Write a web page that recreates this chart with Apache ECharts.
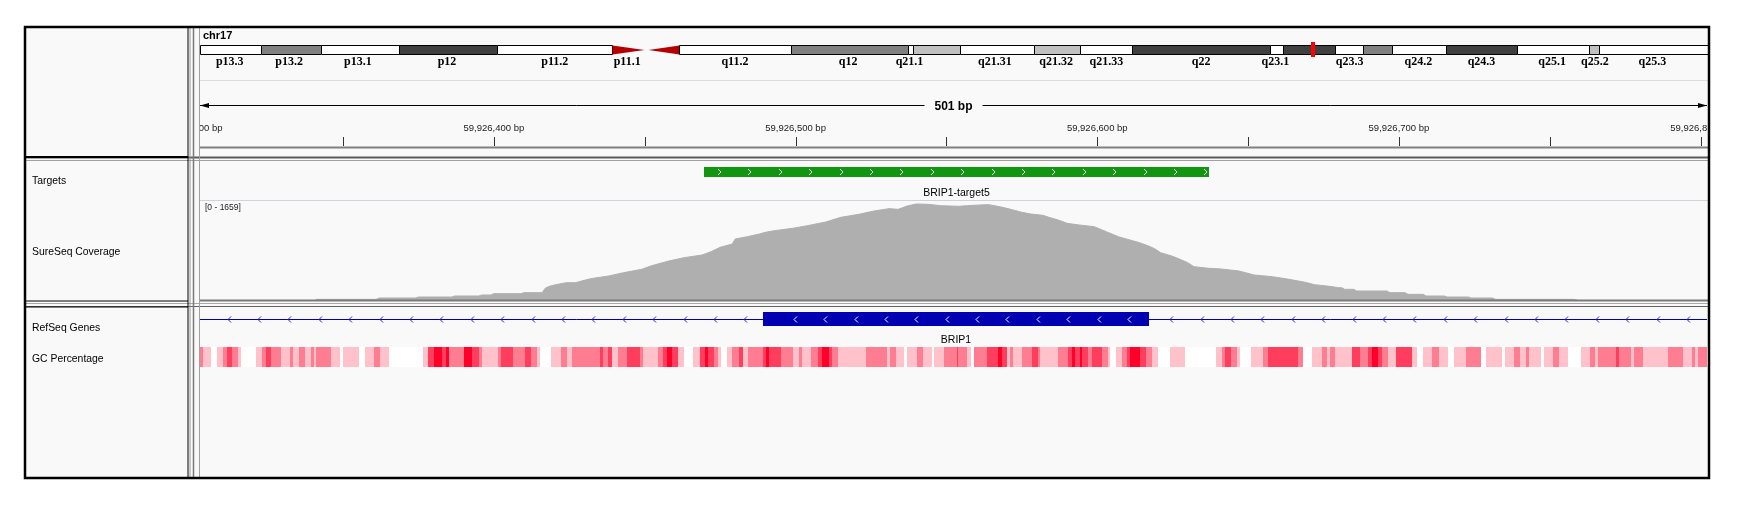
<!DOCTYPE html>
<html>
<head>
<meta charset="utf-8">
<script src="https://cdn.jsdelivr.net/npm/echarts@6/dist/echarts.min.js"></script>
<style>
html, body { margin: 0; padding: 0; background: #fff; }
#main { width: 1738px; height: 506px; }
</style>
</head>
<body>
<div id="main"></div>
<script>
// ---- data ----
const CHROM = 'chr17';
const CHROM_LEN = 81.195; // Mb (hg19)
const POS0 = 59926000;
const VIEW_START = POS0 + 302.6;
const VIEW_END = POS0 + 802.1;
const SPAN_LABEL = '501 bp';
const MARKER_MB = 59.926;

// cytobands
const bandNames = ['p13.3','p13.2','p13.1','p12','p11.2','p11.1','q11.1','q11.2','q12','q21.1','q21.2','q21.31','q21.32','q21.33','q22','q23.1','q23.2','q23.3','q24.1','q24.2','q24.3','q25.1','q25.2','q25.3'];
const bandStarts = [0, 3.3, 6.5, 10.7, 16.0, 22.2, 24.0, 25.8, 31.8, 38.1, 38.4, 40.9, 44.9, 47.4, 50.2, 57.6, 58.3, 61.1, 62.6, 64.2, 67.1, 70.9, 74.8, 75.3];
const bandStains = ['gneg','gpos50','gneg','gpos75','gneg','acen','acen','gneg','gpos50','gneg','gpos25','gneg','gpos25','gneg','gpos75','gneg','gpos75','gneg','gpos50','gneg','gpos75','gneg','gpos25','gneg'];
const bandLabels = ['p13.3','p13.2','p13.1','p12','p11.2','p11.1','q11.2','q12','q21.1','q21.31','q21.32','q21.33','q22','q23.1','q23.3','q24.2','q24.3','q25.1','q25.2','q25.3'];
const bandLabelAt = [1.6, 4.8, 8.5, 13.3, 19.1, 23.0, 28.8, 34.9, 38.2, 42.8, 46.1, 48.8, 53.9, 57.9, 61.9, 65.6, 69.0, 72.8, 75.1, 78.2];

// ruler (offsets from POS0)
const rulerTicks = [350, 400, 450, 500, 550, 600, 650, 700, 750, 800];
const rulerLabels = [300, 400, 500, 600, 700, 800];

// targets (offsets from POS0)
const targetNames = ['BRIP1-target5'];
const targetStarts = [469.5];
const targetEnds = [637.1];
const targetStrand = ['+'];

// genes
const geneNames = ['BRIP1'];
const geneStarts = [59758627];
const geneEnds = [59940882];
const exonStarts = [489.3]; // offsets from POS0
const exonEnds = [617.2];
const geneStrand = ['-'];

// coverage (offsets from POS0)
const COV_MAX = 1659;
const covPos = [341,361,362,374,375,386,387,395,396,399,400,409,410,416,417,418,420,424,427,432,438,443,449,452,458,463,469,472,475,479,480,484,488,490,493,499,504,510,515,521,526,531,534,537,540,544,548,554,557,561,564,567,570,573,575,578,582,584,587,590,594,599,603,607,610,614,617,619,621,625,628,630,632,637,641,647,652,658,663,669,672,677,680,681,682,685,686,696,697,702,703,708,709,715,716,723,724,731,732,758,759];
const covVal = [11,11,34,34,50,50,67,67,84,84,106,106,123,123,196,223,251,290,290,357,402,458,514,570,654,709,754,810,883,938,1022,1061,1106,1134,1162,1201,1246,1307,1385,1436,1491,1531,1519,1575,1609,1603,1581,1570,1581,1592,1598,1570,1536,1497,1469,1441,1419,1385,1341,1285,1257,1229,1145,1061,1017,961,905,860,793,732,670,626,559,531,520,486,419,391,352,296,257,229,207,207,179,179,151,151,123,123,95,95,67,67,50,50,34,34,11,11,0];

// GC percentage segments (offsets from VIEW_START)
const gcOffset = [0,1.1,3.5,5.5,7.7,8.8,10.5,12.5,13.6,18.6,20.4,21.8,23.5,26.8,29.8,30.7,32.8,34.8,36.8,37.7,38.3,43.4,46.5,47.5,52.7,54.7,57.7,59.7,62.6,73.8,75.7,77.7,80.1,81.4,82.5,87.6,90.1,92.6,93.6,98.7,99.8,103.8,107.7,109.7,111.6,112.7,116.3,119.7,121.5,123.4,
  124.3,132.6,133.7,135.3,136.7,138.7,141.4,145.8,146.9,151.7,153.6,154.7,156.3,158.5,160.5,163.5,165.7,167.4,168.5,170.5,171.6,172.7,174.7,176.4,178.7,180.1,181.5,186.7,187.5,188.6,192.6,196.7,198.5,199.6,202.5,204.7,206.3,208.5,209.6,211.6,220.7,227.6,228.7,230.7,233.3,234.4,237.5,239.5,242.5,243.4,246.7,250.8,
  251.4,254.1,255.4,256.7,260.7,264.6,265.7,267.4,268.5,269.6,272.3,275.7,277.6,278.4,284.5,287.8,288.9,290,291.7,292.4,294.4,295.5,298.9,300.9,301.6,303.6,305.5,307.2,308.3,311.6,313.5,315.4,317.4,321.5,326.5,336.6,338.6,339.7,341.7,343.6,344.7,348.4,352.4,354.1,364,365.5,368.5,371.8,373.4,374.5,376.2,
  381.7,384.5,387.2,388.4,390.6,391.7,393.9,396.4,401.6,403.3,405.5,408.2,410.7,413.8,415.6,419.5,424.5,426.3,431.5,432.6,435.5,437.5,439.4,440.5,444.5,445.6,448.6,450.4,453.5,457.6,460.7,462.4,463.5,469.3,470.4,474.3,475.4,478.4,486.5,491.5,494.4,495.5,496.4];
const gcPct = [53,41,30,41,53,64,53,41,30,41,53,64,53,41,53,41,53,41,53,41,53,41,30,41,30,41,53,41,30,41,64,75,64,75,53,75,64,53,41,53,64,53,64,53,41,30,41,53,41,53,
  53,64,53,64,41,53,64,53,41,53,64,75,64,41,30,41,64,75,64,53,41,30,41,53,64,41,53,64,75,64,53,41,53,41,53,64,75,64,53,41,53,41,53,41,30,41,53,41,30,41,53,64,
  53,41,30,53,64,75,64,41,53,41,53,64,53,41,53,64,75,64,75,64,53,64,53,41,30,41,53,64,75,64,53,41,30,41,30,41,53,64,53,41,30,41,53,64,53,30,41,53,41,53,41,
  64,53,64,75,64,53,41,64,41,30,41,53,41,30,41,53,30,41,30,41,53,41,53,41,30,41,53,41,30,41,53,41,53,64,53,41,53,41,53,41,53,41,53];

const trackNames = ['Targets', 'SureSeq Coverage', 'RefSeq Genes', 'GC Percentage'];

// ---- helpers ----
const SANS = '"Liberation Sans", Arial, sans-serif';
const stainColor = { gneg: '#ffffff', gpos25: '#c0c0c0', gpos50: '#808080', gpos75: '#404040', gpos100: '#000000' };

function gcColor(pct) {
    const t = Math.max(0, Math.min(1, (pct - 30) / 45));
    return 'rgb(255,' + Math.round(255 * (1 - t)) + ',' + Math.round(255 - 215 * t) + ')';
}

function fmtBp(v) {
    return Math.round(v).toLocaleString('en-US') + ' bp';
}

function chevron(x, cy, dir, color) {
    // dir: 1 -> '>' , -1 -> '<'
    return {
        type: 'polyline',
        shape: { points: [[x - 1.5 * dir, cy - 3], [x + 1.5 * dir, cy], [x - 1.5 * dir, cy + 3]] },
        style: { stroke: color, lineWidth: 1, fill: null }
    };
}

// ---- series builders ----
const bandData = bandStarts.map((s, i) => [s, i < bandStarts.length - 1 ? bandStarts[i + 1] : CHROM_LEN]);

function renderBand(params, api) {
    const i = params.dataIndex;
    const p0 = api.coord([api.value(0), 1]);
    const p1 = api.coord([api.value(1), 0]);
    const x0 = Math.round(p0[0]) + 0.5, x1 = Math.round(p1[0]) + 0.5;
    const yT = Math.round(p0[1]) + 0.5, yB = Math.round(p1[1]) + 0.5;
    if (bandStains[i] === 'acen') {
        const pArm = bandNames[i].charAt(0) === 'p';
        const mid = (yT + yB) / 2;
        const pts = pArm ? [[x0, yT], [x1 - 2, mid], [x0, yB]] : [[x1, yT], [x0 + 2, mid], [x1, yB]];
        return { type: 'polygon', shape: { points: pts }, style: { fill: '#b40000' } };
    }
    return {
        type: 'rect',
        shape: { x: x0, y: yT, width: x1 - x0, height: yB - yT },
        style: { fill: stainColor[bandStains[i]], stroke: '#000', lineWidth: 1 }
    };
}

function renderBandLabel(params, api) {
    const cs = params.coordSys;
    const x = api.coord([api.value(0), 0])[0];
    return {
        type: 'text', x: x, y: cs.y + cs.height + 8,
        style: { text: bandLabels[params.dataIndex], align: 'center', verticalAlign: 'middle',
            font: 'bold 12px "Liberation Serif", serif', fill: '#000' }
    };
}

function renderMarker(params, api) {
    const cs = params.coordSys;
    const x = api.coord([api.value(0), 0])[0];
    return { type: 'rect', shape: { x: Math.round(x) - 2, y: cs.y - 3, width: 4, height: cs.height + 6 }, style: { fill: '#ff0000' } };
}

function renderTick(params, api) {
    const cs = params.coordSys;
    const x = Math.round(api.coord([api.value(0), 0])[0]) + 0.5;
    const yb = cs.y + cs.height;
    return { type: 'line', shape: { x1: x, y1: yb - 10, x2: x, y2: yb - 1 }, style: { stroke: '#333', lineWidth: 1 } };
}

function renderTickLabel(params, api) {
    const cs = params.coordSys;
    const v = api.value(0);
    const x = api.coord([v, 0])[0];
    return {
        type: 'group',
        clipPath: { type: 'rect', shape: { x: cs.x, y: cs.y, width: cs.width, height: cs.height } },
        children: [{
            type: 'text', x: x, y: cs.y + cs.height - 19,
            style: { text: fmtBp(v), align: 'center', verticalAlign: 'middle', font: '9.5px ' + SANS, fill: '#222' }
        }]
    };
}

function renderSpan(params, api) {
    const cs = params.coordSys;
    const x0 = Math.max(cs.x, api.coord([api.value(0), 0])[0]);
    const x1 = Math.min(cs.x + cs.width, api.coord([api.value(1), 0])[0]);
    const y = cs.y + 5.5;
    return {
        type: 'group',
        children: [
            { type: 'line', shape: { x1: x0, y1: y, x2: x1, y2: y }, style: { stroke: '#000', lineWidth: 1 } },
            { type: 'polygon', shape: { points: [[x0, y], [x0 + 9, y - 2.5], [x0 + 9, y + 2.5]] }, style: { fill: '#000' } },
            { type: 'polygon', shape: { points: [[x1, y], [x1 - 9, y - 2.5], [x1 - 9, y + 2.5]] }, style: { fill: '#000' } },
            { type: 'text', x: (x0 + x1) / 2, y: y + 1,
              style: { text: SPAN_LABEL, align: 'center', verticalAlign: 'middle', font: 'bold 12px ' + SANS,
                       fill: '#000', backgroundColor: '#f9f9f9', padding: [2, 10] } }
        ]
    };
}

function renderTarget(params, api) {
    const cs = params.coordSys;
    const i = params.dataIndex;
    const s = Math.round(api.coord([api.value(0), 0])[0]);
    const e = Math.round(api.coord([api.value(1), 0])[0]);
    const cy = cs.y + cs.height / 2;
    const dir = targetStrand[i] === '-' ? -1 : 1;
    const children = [{ type: 'rect', shape: { x: s, y: cs.y, width: e - s, height: cs.height }, style: { fill: '#109610' } }];
    for (let ax = s + 15; ax < e - 3; ax += 30.4) children.push(chevron(Math.round(ax) + 0.5, cy, dir, '#ffffff'));
    children.push({ type: 'text', x: (s + e) / 2, y: cs.y + cs.height + 16,
        style: { text: targetNames[i], align: 'center', verticalAlign: 'middle', font: '10.5px ' + SANS, fill: '#000' } });
    return { type: 'group', children: children };
}

function renderGene(params, api) {
    const cs = params.coordSys;
    const i = params.dataIndex;
    const gs = Math.max(cs.x, api.coord([api.value(0), 0])[0]);
    const ge = Math.min(cs.x + cs.width, api.coord([api.value(1), 0])[0]);
    const es = Math.round(api.coord([api.value(2), 0])[0]);
    const ee = Math.round(api.coord([api.value(3), 0])[0]);
    const cy = Math.round(cs.y + cs.height / 2) + 0.5;
    const dir = geneStrand[i] === '-' ? -1 : 1;
    const children = [{ type: 'line', shape: { x1: gs, y1: cy, x2: ge, y2: cy }, style: { stroke: '#0000b2', lineWidth: 1 } }];
    for (let ax = cs.x + 28.7; ax < ge - 2; ax += 30.4) {
        if (ax < es - 4 || ax > ee + 4) children.push(chevron(Math.round(ax) + 0.5, cy, dir, '#2424e0'));
    }
    children.push({ type: 'rect', shape: { x: es, y: cs.y, width: ee - es, height: cs.height }, style: { fill: '#0000b2' } });
    for (let ax = es + 31.7; ax < ee - 8; ax += 30.4) children.push(chevron(Math.round(ax) + 0.5, cy, dir, '#ffffff'));
    children.push({ type: 'text', x: (es + ee) / 2, y: cs.y + cs.height + 14,
        style: { text: geneNames[i], align: 'center', verticalAlign: 'middle', font: '10.5px ' + SANS, fill: '#000' } });
    return { type: 'group', children: children };
}

function renderGc(params, api) {
    const cs = params.coordSys;
    const s = Math.round(api.coord([api.value(0), 0])[0]);
    const e = Math.round(api.coord([api.value(1), 0])[0]);
    return { type: 'rect', shape: { x: s, y: cs.y, width: Math.max(1, e - s), height: cs.height }, style: { fill: gcColor(api.value(2)) } };
}

const gcData = gcOffset.map((o, i) => [
    VIEW_START + o,
    i < gcOffset.length - 1 ? VIEW_START + gcOffset[i + 1] : VIEW_END,
    gcPct[i]
]);
const covData = covPos.map((p, i) => [POS0 + p, covVal[i]]);

// ---- layout ----
const L = 200, W = 1507;
const grids = [
    { left: L, top: 45, width: 1508, height: 9 },   // ideogram
    { left: L, top: 100, width: W, height: 47 },    // ruler
    { left: L, top: 167, width: W, height: 10 },    // targets
    { left: L, top: 201, width: W, height: 99 },    // coverage
    { left: L, top: 312, width: W, height: 14 },    // genes
    { left: L, top: 347, width: W, height: 20 }     // gc
];
const xAxes = grids.map((g, i) => ({
    gridIndex: i, type: 'value', show: false,
    min: i === 0 ? 0 : VIEW_START, max: i === 0 ? CHROM_LEN : VIEW_END
}));
const yAxes = grids.map((g, i) => ({
    gridIndex: i, type: 'value', show: false, min: 0, max: i === 3 ? COV_MAX : 1
}));

function hline(x1, x2, y, color, w) {
    return { type: 'line', shape: { x1: x1, y1: y, x2: x2, y2: y }, style: { stroke: color, lineWidth: w || 1 }, z: 50, silent: true };
}
function vline(x, y1, y2, color, w) {
    return { type: 'line', shape: { x1: x, y1: y1, x2: x, y2: y2 }, style: { stroke: color, lineWidth: w || 1 }, z: 50, silent: true };
}
function label(text, x, y, font, color) {
    return { type: 'text', x: x, y: y, style: { text: text, font: font, fill: color || '#000', verticalAlign: 'middle' }, z: 50, silent: true };
}

const trackLabelY = [181, 252, 328, 359];
const graphics = [
    { type: 'rect', shape: { x: 25, y: 27, width: 1684, height: 451 }, style: { fill: '#f9f9f9' }, z: -10, silent: true },
    // light separators
    hline(L, 1708, 80.5, '#dcdce4'),
    hline(L, 1708, 200.5, '#d2d2dc'),
    // ruler baseline
    hline(L, 1708, 147.5, '#808080', 2),
    // panel separators
    hline(25, 1709, 157.5, '#5a5a5a', 2),
    hline(25, 1709, 160.5, '#a0a0a0'),
    hline(L, 1708, 300.5, '#7a7a7a', 2),
    hline(25, 1709, 303.5, '#a8a8a8'),
    hline(25, 1709, 306.5, '#606060'),
    // name panel
    hline(25, 188, 157, '#000', 2),
    hline(25, 188, 301, '#000'),
    hline(25, 188, 307, '#000'),
    vline(188, 27, 478, '#000'),
    vline(190, 27, 478, '#9a9a9a'),
    vline(193.5, 27, 478, '#7a7a7a', 1.5),
    vline(199.5, 27, 478, '#a0a0a0'),
    // outer frame
    { type: 'rect', shape: { x: 25, y: 27, width: 1684, height: 451 }, style: { fill: null, stroke: '#000', lineWidth: 2.5 }, z: 60, silent: true },
    label(CHROM, 203, 36, 'bold 11px ' + SANS),
    label('[0 - ' + COV_MAX + ']', 205, 208, '8.5px ' + SANS, '#222')
].concat(trackNames.map((n, i) => label(n, 32, trackLabelY[i], '10.4px ' + SANS)));

const chart = echarts.init(document.getElementById('main'));
chart.setOption({
    backgroundColor: '#ffffff',
    animation: false,
    grid: grids,
    xAxis: xAxes,
    yAxis: yAxes,
    graphic: { elements: graphics },
    series: [
        { type: 'custom', xAxisIndex: 0, yAxisIndex: 0, data: bandData, renderItem: renderBand, silent: true },
        { type: 'custom', xAxisIndex: 0, yAxisIndex: 0, data: bandLabelAt.map(v => [v]), renderItem: renderBandLabel, silent: true },
        { type: 'custom', xAxisIndex: 0, yAxisIndex: 0, data: [[MARKER_MB]], renderItem: renderMarker, silent: true, z: 5 },
        { type: 'custom', xAxisIndex: 1, yAxisIndex: 1, data: rulerTicks.map(t => [POS0 + t]), renderItem: renderTick, silent: true },
        { type: 'custom', xAxisIndex: 1, yAxisIndex: 1, data: rulerLabels.map(t => [POS0 + t]), renderItem: renderTickLabel, silent: true },
        { type: 'custom', xAxisIndex: 1, yAxisIndex: 1, data: [[VIEW_START, VIEW_START + 501]], renderItem: renderSpan, silent: true },
        { type: 'custom', xAxisIndex: 2, yAxisIndex: 2, data: targetStarts.map((s, i) => [POS0 + s, POS0 + targetEnds[i]]), renderItem: renderTarget, silent: true },
        {
            type: 'line', xAxisIndex: 3, yAxisIndex: 3, data: covData, showSymbol: false, silent: true,
            lineStyle: { color: '#afafaf', width: 1 }, areaStyle: { color: '#afafaf', opacity: 1 }
        },
        { type: 'custom', xAxisIndex: 4, yAxisIndex: 4, data: geneStarts.map((s, i) => [s, geneEnds[i], POS0 + exonStarts[i], POS0 + exonEnds[i]]), renderItem: renderGene, silent: true },
        { type: 'custom', xAxisIndex: 5, yAxisIndex: 5, data: gcData, renderItem: renderGc, silent: true }
    ]
});
</script>
</body>
</html>
